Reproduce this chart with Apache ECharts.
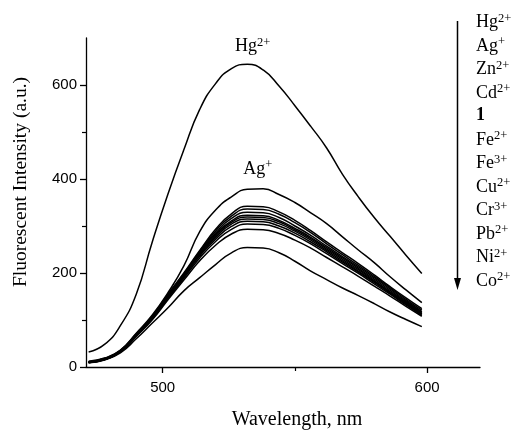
<!DOCTYPE html>
<html>
<head>
<meta charset="utf-8">
<script src="https://cdn.jsdelivr.net/npm/echarts@6/dist/echarts.min.js"></script>
<style>
  html, body { margin: 0; padding: 0; background: #fff; }
  #chart { width: 515px; height: 435px; }
</style>
</head>
<body>
<div id="chart"></div>
<script>
// wavelengths (nm)
const waves = [472, 478, 484, 490, 496, 502, 508, 514, 520, 526, 532, 538, 544, 550, 556, 562, 568, 574, 580, 586, 592, 598];

// intensities, one array per ion
const hg = [32, 48, 88, 155, 265, 368, 462, 548, 603, 635, 644, 632, 598, 556, 512, 466, 410, 362, 318, 278, 238, 199];
const ag = [12, 19, 36, 72, 110, 158, 215, 288, 334, 362, 378, 379, 367, 350, 328, 305, 277, 249, 222, 192, 164, 137];
const zn = [11, 18, 35, 70, 108, 155, 200, 248, 293, 326, 342, 341, 330, 312, 290, 266, 243, 220, 196, 171, 147, 124];
const cd = [11, 18, 35, 70, 107, 153, 198, 246, 289, 321, 336, 335, 325, 307, 286, 262, 239, 216, 193, 169, 144, 121];
const one = [10, 17, 34, 69, 106, 152, 197, 244, 285, 316, 329, 328, 318, 300, 280, 257, 235, 213, 190, 166, 141, 118];
const fe2 = [10, 17, 34, 68, 105, 151, 196, 242, 282, 311, 323, 322, 312, 295, 276, 254, 232, 210, 187, 163, 139, 116];
const fe3 = [10, 17, 33, 68, 104, 150, 195, 240, 279, 308, 319, 318, 309, 292, 273, 251, 229, 207, 184, 160, 137, 114];
const cu = [10, 16, 33, 67, 104, 149, 193, 238, 276, 304, 315, 314, 305, 289, 270, 248, 226, 204, 182, 159, 136, 113];
const cr = [10, 16, 33, 67, 103, 148, 192, 236, 272, 299, 310, 309, 300, 285, 266, 245, 223, 202, 180, 157, 134, 112];
const pb = [9, 16, 32, 66, 102, 146, 189, 232, 267, 293, 304, 303, 295, 280, 262, 241, 220, 199, 177, 155, 132, 110];
const ni = [9, 16, 32, 65, 100, 143, 185, 226, 259, 283, 293, 292, 284, 270, 253, 233, 213, 193, 172, 151, 129, 108];
const co = [9, 15, 30, 60, 93, 126, 162, 190, 218, 243, 254, 253, 243, 225, 204, 186, 168, 152, 135, 117, 101, 86];

// legend rows, top to bottom: [name, superscript]
const ions = [['Hg', '2+'], ['Ag', '+'], ['Zn', '2+'], ['Cd', '2+'], ['1', ''], ['Fe', '2+'], ['Fe', '3+'],
              ['Cu', '2+'], ['Cr', '3+'], ['Pb', '2+'], ['Ni', '2+'], ['Co', '2+']];
const curves = [hg, ag, zn, cd, one, fe2, fe3, cu, cr, pb, ni, co];

const xTicks = [500, 600];
const xMinor = [550];
const yTicks = [0, 200, 400, 600];
const yMinor = [100, 300, 500];

const serif = '"Liberation Serif", "Times New Roman", serif';
const sans = '"Liberation Sans", Arial, sans-serif';

const rich = {
  b: { fontFamily: serif, fontSize: 18, color: '#000' },
  bb: { fontFamily: serif, fontSize: 18, color: '#000', fontWeight: 'bold' },
  s: { fontFamily: serif, fontSize: 12.5, color: '#000', padding: [0, 0, 8, 0] }
};
function ionText(ion) {
  if (!ion[1]) return '{bb|' + ion[0] + '}';
  return '{b|' + ion[0] + '}{s|' + ion[1] + '}';
}

const chart = echarts.init(document.getElementById('chart'), null, { renderer: 'canvas' });

const series = curves.map((vals, i) => ({
  name: ions[i].join(''),
  type: 'line',
  xAxisIndex: 0,
  yAxisIndex: 0,
  smooth: true,
  showSymbol: false,
  silent: true,
  lineStyle: { color: '#000', width: 1.5 },
  data: waves.map((w, j) => [w, vals[j]])
}));

// peak annotations
series[0].markPoint = {
  symbol: 'circle', symbolSize: 0, silent: true,
  data: [{ coord: [534, 682] }],
  label: { show: true, position: 'inside', formatter: ionText(ions[0]), rich: rich }
};
series[1].markPoint = {
  symbol: 'circle', symbolSize: 0, silent: true,
  data: [{ coord: [536, 421] }],
  label: { show: true, position: 'inside', formatter: ionText(ions[1]), rich: rich }
};

// legend column with arrow, and the y title
const rowTop = 24, rowGap = 23.5;
const graphics = [
  { type: 'line', shape: { x1: 457.5, y1: 21, x2: 457.5, y2: 282 }, style: { stroke: '#000', lineWidth: 1.5 } },
  { type: 'polygon', shape: { points: [[454, 278], [461, 278], [457.5, 290]] }, style: { fill: '#000' } },
  {
    type: 'text', x: 21, y: 182, rotation: Math.PI / 2,
    style: { text: 'Fluorescent Intensity (a.u.)', fontFamily: serif, fontSize: 19.5, fill: '#000',
             align: 'center', verticalAlign: 'middle' }
  }
];
ions.forEach((ion, i) => {
  graphics.push({
    type: 'text', left: 476, top: rowTop + i * rowGap - 12,
    style: { text: ionText(ion), rich: rich }
  });
});

const option = {
  animation: false,
  backgroundColor: '#fff',
  grid: { left: 86, right: 35, top: 38, bottom: 66 },
  xAxis: [{
    type: 'value', min: 471, max: 620,
    name: 'Wavelength, nm', nameLocation: 'middle', nameGap: 43,
    nameTextStyle: { fontFamily: serif, fontSize: 20, color: '#000', padding: [0, 0, 0, 28] },
    axisLine: { lineStyle: { color: '#000', width: 1.3 } },
    axisTick: { customValues: xTicks, length: 6, lineStyle: { color: '#000', width: 1.3 } },
    axisLabel: { customValues: xTicks, margin: 13, fontFamily: sans, fontSize: 15, color: '#000' },
    splitLine: { show: false }
  }, {
    type: 'value', min: 471, max: 620, position: 'bottom',
    axisLine: { show: false },
    axisTick: { customValues: xMinor, length: 4, lineStyle: { color: '#000', width: 1.2 } },
    axisLabel: { show: false },
    splitLine: { show: false }
  }],
  yAxis: [{
    type: 'value', min: 0, max: 700,
    axisLine: { show: true, lineStyle: { color: '#000', width: 1.3 } },
    axisTick: { show: true, customValues: yTicks, length: 6, lineStyle: { color: '#000', width: 1.3 } },
    axisLabel: { customValues: yTicks, margin: 9, fontFamily: sans, fontSize: 15, color: '#000' },
    splitLine: { show: false }
  }, {
    type: 'value', min: 0, max: 700, position: 'left',
    axisLine: { show: false },
    axisTick: { show: true, customValues: yMinor, length: 4, lineStyle: { color: '#000', width: 1.2 } },
    axisLabel: { show: false },
    splitLine: { show: false }
  }],
  series: series,
  graphic: graphics
};

chart.setOption(option);
window.addEventListener('resize', chart.resize);
</script>
</body>
</html>
